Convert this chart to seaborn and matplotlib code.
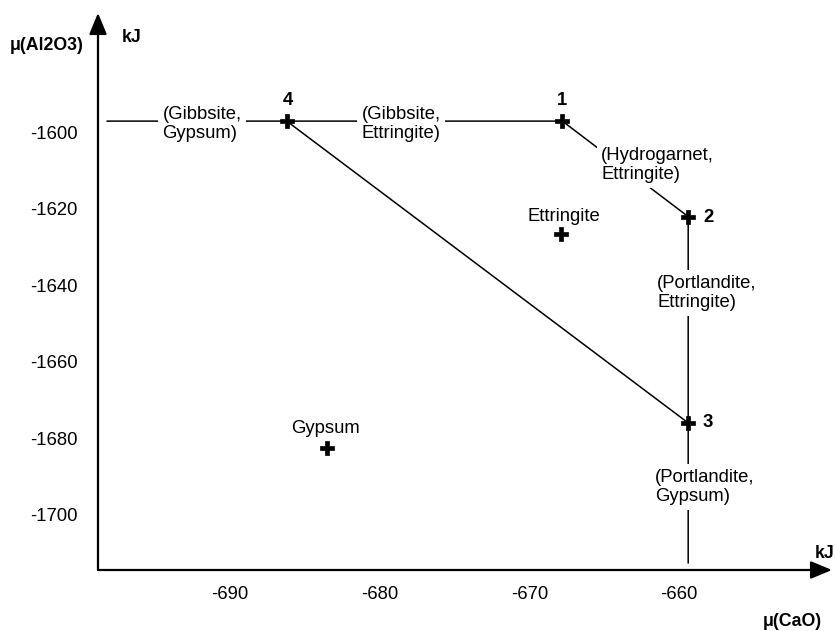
import matplotlib
matplotlib.use("Agg")
import matplotlib.pyplot as plt
import seaborn as sns
import pandas as pd

sns.set_style("white")
plt.rcParams['font.family'] = ['Liberation Sans', 'DejaVu Sans']
plt.rcParams['text.color'] = 'black'
plt.rcParams['xtick.color'] = 'black'
plt.rcParams['ytick.color'] = 'black'

# ---- data ----
invariant_ids = ["1", "2", "3", "4"]
invariant_cao = [-667.8, -659.4, -659.4, -686.2]
invariant_al2o3 = [-1597.0, -1622.0, -1676.0, -1597.0]

phase_names = ["Ettringite", "Gypsum"]
phase_cao = [-667.9, -683.5]
phase_al2o3 = [-1626.6, -1682.6]

# boundary polyline: left edge -> 4 -> 1 -> 2 -> 3 -> bottom edge
boundary_cao = [-698.2, -686.2, -667.8, -659.4, -659.4, -659.4]
boundary_al2o3 = [-1597.0, -1597.0, -1597.0, -1622.0, -1676.0, -1712.7]
# diagonal 4 -> 3
diag_cao = [-686.2, -659.4]
diag_al2o3 = [-1597.0, -1676.0]

boundary_labels = ["(Gibbsite,\nGypsum)", "(Gibbsite,\nEttringite)",
                   "(Hydrogarnet,\nEttringite)", "(Portlandite,\nEttringite)",
                   "(Portlandite,\nGypsum)"]

xticks = [-690, -680, -670, -660]
yticks = [-1700, -1680, -1660, -1640, -1620, -1600]

FS = 13.3

fig = plt.figure(figsize=(8.35, 6.31), dpi=100)
ax = fig.add_axes([98/835, 1-570/631, (832-98)/835, (570-13)/631])
ax.set_xlim(-698.8, -649.8)
ax.set_ylim(-1714.5, -1568.7)

bdf = pd.DataFrame({"x": boundary_cao, "y": boundary_al2o3})
sns.lineplot(data=bdf, x="x", y="y", sort=False, estimator=None, color="black",
             lw=1.1, ax=ax, zorder=2)
ddf = pd.DataFrame({"x": diag_cao, "y": diag_al2o3})
sns.lineplot(data=ddf, x="x", y="y", sort=False, estimator=None, color="black",
             lw=1.1, ax=ax, zorder=2)

pts = pd.DataFrame({"x": invariant_cao + phase_cao, "y": invariant_al2o3 + phase_al2o3})
sns.scatterplot(data=pts, x="x", y="y", marker="P", s=90, color="black",
                edgecolor="black", linewidth=0.5, ax=ax, zorder=5)

# boundary labels with white background (interrupting lines)
label_pos = [(-694.5, -1597.8), (-681.2, -1597.8), (-665.2, -1608.5),
             (-661.47, -1642.0), (-661.6, -1692.8)]
for txt, (lx, ly) in zip(boundary_labels, label_pos):
    ax.text(lx, ly, txt, ha="left", va="center", fontsize=FS, linespacing=1.2,
            multialignment="left", zorder=4,
            bbox=dict(boxstyle="square,pad=0.25", fc="white", ec="none"))

# invariant point numbers
num_pos = [(-667.8, -1591.5), (-658.06, -1622.1), (-658.1, -1676.0), (-686.1, -1591.5)]
for name, (nx, ny) in zip(invariant_ids, num_pos):
    ax.text(nx, ny, name, ha="center", va="center", fontsize=FS, fontweight="bold")

# phase labels
phase_lab_pos = [(-667.7, -1621.9), (-683.6, -1677.4)]
for name, (px, py) in zip(phase_names, phase_lab_pos):
    ax.text(px, py, name, ha="center", va="center", fontsize=FS)

# axes with arrows
for s in ax.spines.values():
    s.set_visible(False)
ax.annotate("", xy=(0, 1), xytext=(0, 0), xycoords="axes fraction",
            arrowprops=dict(arrowstyle="-|>,head_length=0.65,head_width=0.27",
                            color="black", lw=1.6, mutation_scale=20,
                            shrinkA=0, shrinkB=0))
ax.annotate("", xy=(1, 0), xytext=(0, 0), xycoords="axes fraction",
            arrowprops=dict(arrowstyle="-|>,head_length=0.65,head_width=0.27",
                            color="black", lw=1.6, mutation_scale=20,
                            shrinkA=0, shrinkB=0))

ax.set_xticks(xticks)
ax.set_yticks(yticks)
ax.set_xticklabels([str(v) for v in xticks])
ax.set_yticklabels([str(v) for v in yticks])
ax.tick_params(axis="both", direction="inout", length=9, width=1.6, labelsize=FS,
               colors="black")
ax.tick_params(axis="x", pad=7)
ax.tick_params(axis="y", pad=10)
ax.set_xlabel("")
ax.set_ylabel("")
ax.grid(False)

fig.text(47/835, 1-45/631, "μ(Al2O3)", ha="center", va="center", fontsize=FS - 0.5,
         fontweight="bold")
fig.text(132/835, 1-37/631, "kJ", ha="center", va="center", fontsize=FS - 0.5,
         fontweight="bold")
fig.text(834/835, 1-553/631, "kJ", ha="right", va="center", fontsize=FS - 0.5,
         fontweight="bold")
fig.text(792/835, 1-622/631, "μ(CaO)", ha="center", va="center", fontsize=FS - 0.5,
         fontweight="bold")

fig.savefig("out.png", dpi=100)
